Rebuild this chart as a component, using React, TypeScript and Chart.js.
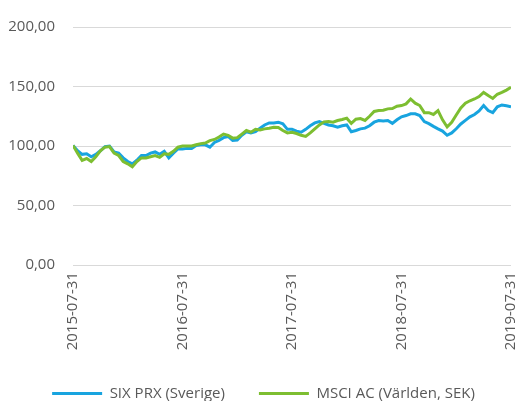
import React, { useEffect, useRef } from "react";
import { Chart, registerables } from "chart.js";

Chart.register(...registerables);

// Tick labels for the x axis (one per year)
const yearTicks = ["2015-07-31", "2016-07-31", "2017-07-31", "2018-07-31", "2019-07-31"];
const pointsPerYear = 24; // semi-monthly observations

const seriesNames = ["SIX PRX (Sverige)", "MSCI AC (Världen, SEK)"];

// SIX PRX (Sverige), indexed to 100
const sixPrx = [
  100.5, 96, 93, 93.5, 91, 93, 96, 99.5, 100, 95, 94, 90, 87, 85, 88, 92, 92, 94, 95, 93, 95.5, 90, 94, 97.5,
  97.5, 98, 98, 100.5, 101, 101, 99, 103, 104.7, 107, 108, 104.7, 105, 109, 112, 111, 112, 115, 117.7, 119.4, 119.4, 120, 118.6, 114,
  114, 112.5, 111.6, 114, 117, 119.4, 120.6, 119, 117.7, 117, 115.8, 117, 117.7, 112, 113, 114.4, 115, 117, 120, 121.4, 121, 121.4, 119, 122,
  124.5, 125.6, 127, 127, 125.6, 120.5, 118.8, 116.5, 114.4, 112.5, 109, 111, 114.5, 118.5, 121.5, 124.5, 126.5, 129.5, 134, 129.8, 128, 133, 134.5, 133.8,
  133,
];

// MSCI AC (Världen, SEK), indexed to 100
const msciAc = [
  100.5, 94, 88, 89.5, 87, 91, 96, 99, 99.5, 94, 92, 87, 85, 82.5, 87, 90, 90, 91, 92, 90.5, 93.5, 93, 95.5, 99,
  100, 100, 100, 101, 102, 102.5, 104.5, 105.5, 107.5, 110, 109, 106.6, 107, 110, 113, 111.6, 114, 113.5, 114.4, 115, 115.8, 115.5, 113, 111,
  111.5, 110.5, 109, 108, 111, 114.4, 117.7, 120.3, 120.6, 120, 121.4, 122.3, 123.4, 119, 122.5, 123, 121.5, 125, 129, 129.8, 130, 131.2, 131.5, 133.4,
  134, 135.4, 139.5, 136, 134, 128, 128, 126.5, 129.8, 122, 116, 120, 126, 132, 136, 138, 139.5, 141.5, 145, 142.4, 140, 143.5, 145, 147,
  149.3,
];

const yMin = 0;
const yMax = 200;
const yStep = 50;

const colors = { six: "#18A4DF", msci: "#7DBE31", text: "#595959", grid: "#D9D9D9" };
const FONT = "'Open Sans', sans-serif";

export default function App() {
  const ref = useRef<HTMLCanvasElement | null>(null);

  useEffect(() => {
    document.body.style.margin = "0";
    const canvas = ref.current;
    if (!canvas) return;
    const chart = new Chart(canvas, {
      type: "line",
      data: {
        datasets: [
          {
            label: seriesNames[1],
            data: msciAc.map((v, i) => ({ x: i, y: v })),
            borderColor: colors.msci,
            backgroundColor: colors.msci,
            borderWidth: 3,
            pointRadius: 0,
            tension: 0,
          },
          {
            label: seriesNames[0],
            data: sixPrx.map((v, i) => ({ x: i, y: v })),
            borderColor: colors.six,
            backgroundColor: colors.six,
            borderWidth: 3,
            pointRadius: 0,
            tension: 0,
          },
        ],
      },
      options: {
        animation: false,
        responsive: false,
        layout: { padding: { top: 24, left: 0, right: -9, bottom: -10 } },
        scales: {
          x: {
            type: "linear",
            min: 0,
            max: (yearTicks.length - 1) * pointsPerYear,
            grid: { display: false, drawTicks: false },
            border: { display: false },
            ticks: {
              stepSize: pointsPerYear,
              autoSkip: false,
              minRotation: 90,
              maxRotation: 90,
              padding: 7,
              color: colors.text,
              font: { family: FONT, size: 15 },
              callback: (v: any) => yearTicks[Math.round(Number(v) / pointsPerYear)] ?? "",
            },
            afterFit: (s: any) => {
              s.height = 87;
              s.paddingRight = 0;
              s.paddingLeft = 0;
            },
          },
          y: {
            min: yMin,
            max: yMax,
            grid: { color: colors.grid, lineWidth: 1, drawTicks: false },
            border: { display: false },
            ticks: {
              stepSize: yStep,
              padding: 18,
              color: colors.text,
              font: { family: FONT, size: 15 },
              callback: (v: any) => Number(v).toFixed(2).replace(".", ","),
            },
            afterFit: (s: any) => {
              s.width = 73;
            },
          },
          yR: {
            type: "linear",
            position: "right",
            display: true,
            grid: { display: false, drawTicks: false },
            border: { display: false },
            ticks: { display: false },
            afterFit: (s: any) => {
              s.width = 16;
            },
          },
        },
        plugins: {
          tooltip: { enabled: false },
          legend: {
            position: "bottom",
            align: "center",
            reverse: true,
            labels: {
              usePointStyle: true,
              pointStyle: "line",
              pointStyleWidth: 50,
              padding: 34,
              color: colors.text,
              font: { family: FONT, size: 15 },
            },
          },
        },
      },
    });
    return () => chart.destroy();
  }, []);

  return (
    <div style={{ width: 518, height: 401 }}>
      <canvas ref={ref} width={518} height={401} style={{ display: "block" }} />
    </div>
  );
}
